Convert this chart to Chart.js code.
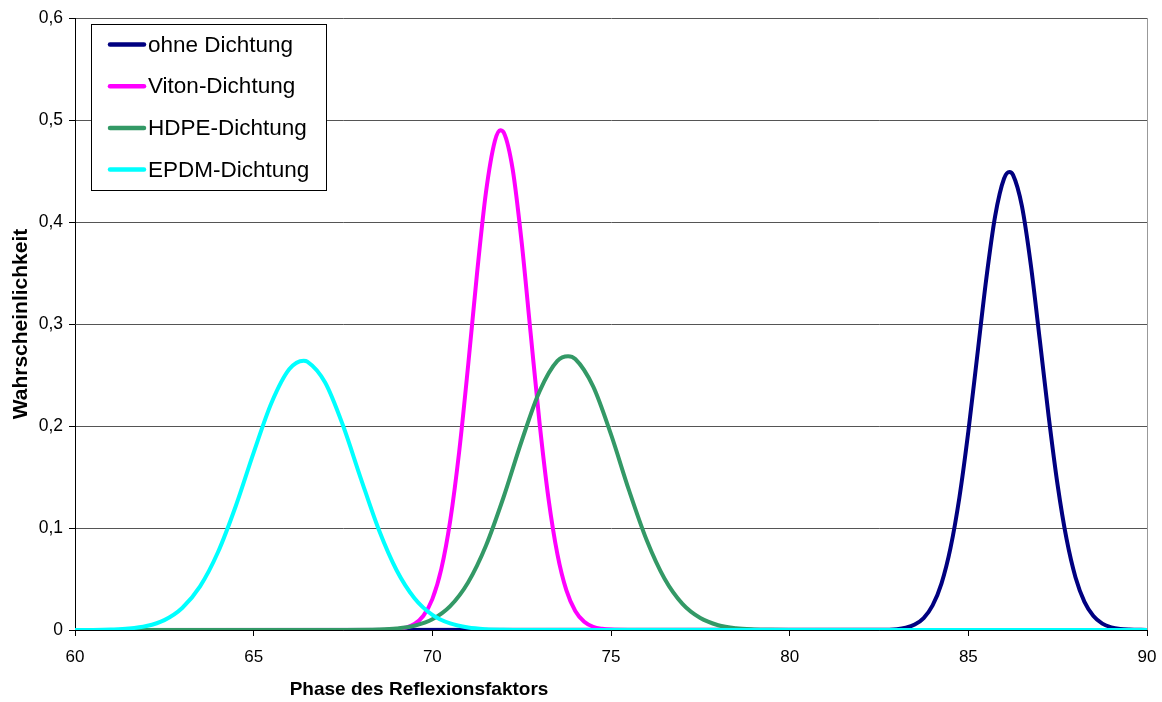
<!DOCTYPE html>
<html lang="de">

<head>
    <meta charset="UTF-8">
    <title>Phase des Reflexionsfaktors</title>
    <script src="https://cdn.jsdelivr.net/npm/chart.js"></script>
    <style>
        html, body { margin: 0; padding: 0; background: #fff; }
        #wrap { width: 1162px; height: 702px; }
    </style>
</head>

<body>
    <div id="wrap"><canvas id="phaseChart" width="1162" height="702"></canvas></div>

    <script>
        // values
        const seriesNames = ['ohne Dichtung', 'Viton-Dichtung', 'HDPE-Dichtung', 'EPDM-Dichtung'];
        const seriesColors = ['#000080', '#FF00FF', '#339966', '#00FFFF'];

        const ohneX = [60, 82.5, 83, 83.25, 83.5, 83.75, 84, 84.25, 84.5, 84.75, 85, 85.25, 85.5, 85.75, 86, 86.15,
            86.25, 86.5, 86.75, 87, 87.25, 87.5, 87.75, 88, 88.25, 88.5, 88.75, 89, 89.25, 89.5, 90];
        const ohneY = [0, 0.0002, 0.0008, 0.0022, 0.0053, 0.0117, 0.0241, 0.0458, 0.0802, 0.1299, 0.1945, 0.2690, 0.3437, 0.4058, 0.4427, 0.449,
            0.4462, 0.4155, 0.3576, 0.2843, 0.2089, 0.1418, 0.0890, 0.0515, 0.0276, 0.0137, 0.0062, 0.0026, 0.0010, 0.0004, 0.0001];

        const vitonX = [60, 68.5, 69, 69.25, 69.5, 69.75, 70, 70.25, 70.5, 70.75, 71, 71.25, 71.5, 71.75, 71.9, 72,
            72.25, 72.5, 72.75, 73, 73.25, 73.5, 73.75, 74, 74.25, 74.5, 74.75, 75, 75.5, 90];
        const vitonY = [0, 0.0001, 0.0008, 0.0023, 0.0059, 0.0140, 0.0303, 0.0597, 0.1070, 0.1744, 0.2587, 0.3492, 0.4289, 0.4794, 0.490, 0.4876,
            0.4513, 0.3801, 0.2913, 0.2032, 0.1290, 0.0745, 0.0391, 0.0187, 0.0081, 0.0032, 0.0012, 0.0004, 0.0001, 0];

        const hdpeX = [60, 67.5, 68.5, 69, 69.5, 70, 70.5, 71, 71.5, 72, 72.5, 73, 73.5, 73.8, 74, 74.5, 75,
            75.5, 76, 76.5, 77, 77.5, 78, 78.5, 79, 79.5, 80, 90];
        const hdpeY = [0, 0.0001, 0.0005, 0.0015, 0.0042, 0.0105, 0.0234, 0.0466, 0.0826, 0.1309, 0.1853, 0.2340, 0.2639, 0.2685, 0.2657, 0.2388, 0.1917,
            0.1373, 0.0879, 0.0502, 0.0256, 0.0117, 0.0047, 0.0017, 0.0006, 0.0002, 0.0001, 0];

        const epdmX = [60, 60.5, 61, 61.5, 62, 62.5, 63, 63.5, 64, 64.5, 65, 65.5, 66, 66.4, 66.5, 67, 67.5,
            68, 68.5, 69, 69.5, 70, 70.5, 71, 71.5, 72, 72.5, 90];
        const epdmY = [0, 0.0001, 0.0005, 0.0014, 0.0039, 0.0097, 0.0216, 0.0428, 0.0762, 0.1216, 0.1739, 0.2228, 0.2558, 0.264, 0.2632, 0.2427, 0.2005,
            0.1485, 0.0985, 0.0586, 0.0312, 0.0149, 0.0064, 0.0024, 0.0008, 0.0003, 0.0001, 0];

        const xTitle = 'Phase des Reflexionsfaktors';
        const yTitle = 'Wahrscheinlichkeit';

        const FONT = "'Liberation Sans', Arial, sans-serif";

        function toPoints(xs, ys) {
            return xs.map((x, i) => ({ x: x, y: ys[i] }));
        }

        const allX = [ohneX, vitonX, hdpeX, epdmX];
        const allY = [ohneY, vitonY, hdpeY, epdmY];

        const datasets = seriesNames.map((name, i) => ({
            label: name,
            data: toPoints(allX[i], allY[i]),
            borderColor: seriesColors[i],
            backgroundColor: seriesColors[i],
            borderWidth: 4,
            pointRadius: 0,
            fill: false,
            cubicInterpolationMode: 'monotone',
            // later series lie on top, like in the original
            order: seriesNames.length - 1 - i
        }));

        // boxed legend inside the plot, top left
        const boxLegend = {
            id: 'boxLegend',
            afterDraw(chart) {
                const ctx = chart.ctx;
                ctx.save();
                ctx.fillStyle = '#fff';
                ctx.fillRect(92, 25, 234, 165);
                ctx.strokeStyle = '#000';
                ctx.lineWidth = 1;
                ctx.strokeRect(91.5, 24.5, 235, 166);
                ctx.font = '22.5px ' + FONT;
                ctx.textBaseline = 'middle';
                ctx.textAlign = 'left';
                seriesNames.forEach((name, i) => {
                    const y = 44.5 + i * 41.7;
                    ctx.strokeStyle = seriesColors[i];
                    ctx.lineWidth = 4.5;
                    ctx.lineCap = 'round';
                    ctx.beginPath();
                    ctx.moveTo(110, y);
                    ctx.lineTo(144, y);
                    ctx.stroke();
                    ctx.fillStyle = '#000';
                    ctx.fillText(name, 148, y + 1);
                });
                ctx.restore();
            }
        };

        // x axis title sits left of centre in the original
        const xAxisTitle = {
            id: 'xAxisTitle',
            afterDraw(chart) {
                const ctx = chart.ctx;
                ctx.save();
                ctx.font = 'bold 19px ' + FONT;
                ctx.fillStyle = '#000';
                ctx.textAlign = 'center';
                ctx.textBaseline = 'middle';
                ctx.fillText(xTitle, 419, 690);
                ctx.restore();
            }
        };

        const ctx = document.getElementById('phaseChart').getContext('2d');
        const phaseChart = new Chart(ctx, {
            type: 'line',
            data: { datasets: datasets },
            options: {
                responsive: false,
                animation: false,
                layout: { padding: { left: 0, right: 15, top: 18, bottom: 0 } },
                plugins: {
                    legend: { display: false },
                    tooltip: { enabled: false }
                },
                scales: {
                    x: {
                        type: 'linear',
                        min: 60,
                        max: 90,
                        ticks: {
                            stepSize: 5,
                            color: '#000',
                            padding: 11,
                            font: { family: FONT, size: 17 }
                        },
                        grid: {
                            color: c => (c.tick && c.tick.value === 90) ? '#999' : 'rgba(0,0,0,0)',
                            tickColor: '#000',
                            tickLength: 6,
                            drawTicks: true
                        },
                        border: { color: '#000', width: 1 },
                        afterFit(scale) {
                            scale.height = 72;
                            scale.paddingLeft = 0;
                            scale.paddingRight = 0;
                        }
                    },
                    y: {
                        min: 0,
                        max: 0.6,
                        ticks: {
                            stepSize: 0.1,
                            color: '#000',
                            padding: 6,
                            font: { family: FONT, size: 17.5 },
                            callback: v => v === 0 ? '0' : v.toFixed(1).replace('.', ',')
                        },
                        grid: {
                            color: '#555',
                            tickColor: '#000',
                            tickLength: 6
                        },
                        border: { color: '#000', width: 1 },
                        title: {
                            display: true,
                            text: yTitle,
                            color: '#000',
                            padding: { top: 9, bottom: 0 },
                            font: { family: FONT, size: 21, weight: 'bold', lineHeight: 1.2 }
                        },
                        afterFit(scale) { scale.width = 75; }
                    }
                }
            },
            plugins: [boxLegend, xAxisTitle]
        });
    </script>
</body>

</html>
